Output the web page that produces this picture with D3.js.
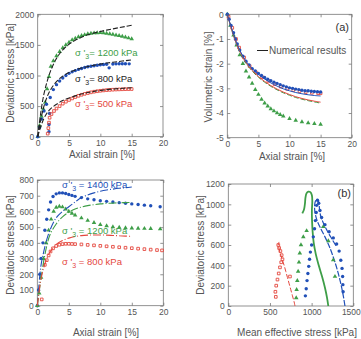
<!DOCTYPE html>
<html>
<head>
<meta charset="utf-8">
<script src="https://cdn.jsdelivr.net/npm/d3@7/dist/d3.min.js"></script>
<style>
  body { margin: 0; background: #fff; }
  svg { display: block; }
  text { font-family: "Liberation Sans", Arial, sans-serif; fill: #555; }
</style>
</head>
<body>
<svg id="chart" width="361" height="339"></svg>
<script>
// ---- panel 1 : deviatoric stress vs axial strain (drained) ----
const dev1200Exp = [[0,0],[0.3,180],[0.6,330],[0.9,450],[1.2,560],[1.5,780],[1.8,980],[2.1,1150],[2.5,1240],[3,1320],[3.5,1390],[4,1450],[4.5,1500],[5,1540],[5.5,1580],[6,1605],[6.5,1630],[7,1650],[7.5,1665],[8,1678],[8.5,1688],[9,1694],[9.5,1697],[10,1698],[10.5,1694],[11,1688],[11.5,1680],[12,1670],[12.5,1660],[13,1650],[13.5,1638],[14,1625],[14.5,1612],[15,1598]];
const dev800Exp = [[0,0],[0.3,150],[0.6,290],[1,420],[1.4,530],[1.8,80],[1.8,200],[1.9,380],[2,640],[2.5,770],[3,850],[3.5,910],[4,960],[4.5,1000],[5,1035],[5.5,1060],[6,1080],[6.5,1100],[7,1115],[7.5,1130],[8,1142],[8.5,1152],[9,1160],[9.5,1168],[10,1175],[10.5,1180],[11,1183],[11.4,1125],[12,1187],[12.5,1190],[13,1192],[13.5,1193],[14,1193],[14.6,1190]];
const dev500Exp = [[1.6,50],[1.7,140],[1.8,230],[1.9,310],[2.2,370],[2.6,420],[3,460],[3.5,500],[4,540],[4.5,572],[5,600],[5.5,625],[6,648],[6.5,668],[7,685],[7.5,700],[8,713],[8.5,725],[9,735],[9.5,743],[10,750],[10.5,756],[11,761],[11.5,765],[12,768],[12.5,771],[13,773],[13.5,775],[14,777],[14.5,778],[15,779]];
const dev1200Num = [[0,0],[0.5,400],[1,700],[1.5,900],[2,1060],[3,1280],[4,1420],[5,1510],[6,1575],[7,1625],[8,1665],[9,1695],[10,1720],[11,1742],[12,1762],[13,1782],[14,1801],[15,1820]];
const dev800Num = [[0,0],[0.5,280],[1,500],[1.5,650],[2,760],[3,900],[4,990],[5,1050],[6,1090],[7,1122],[8,1148],[9,1168],[10,1187],[11,1203],[12,1217],[13,1230],[14,1242],[15,1255]];
const dev500Num = [[0,0],[0.5,170],[1,300],[1.5,390],[2,450],[3,530],[4,590],[5,632],[6,667],[7,697],[8,721],[9,741],[10,756],[11,769],[12,779],[13,787],[14,794],[15,800]];

// ---- panel 2 : volumetric strain vs axial strain ----
const vol800Exp = [[0,0],[0.3,-0.2],[0.6,-0.45],[1,-0.75],[1.3,-1.0],[1.6,-1.2],[2,-1.45],[2.5,-1.7],[3,-1.9],[3.5,-2.05],[4,-2.2],[4.5,-2.3],[5,-2.4],[5.5,-2.48],[6,-2.56],[6.5,-2.63],[7,-2.69],[7.5,-2.75],[8,-2.8],[8.5,-2.85],[9,-2.9],[9.5,-2.94],[10,-2.98],[10.5,-3.0],[11,-3.03],[11.5,-3.05],[12,-3.08],[12.5,-3.1],[13,-3.1],[13.5,-3.12],[14,-3.13],[14.5,-3.14],[15,-3.15]];
const vol500Exp = [[0.2,-0.1],[0.8,-0.55],[1.4,-1.0],[1.9,-1.35],[2.7,-1.75],[3.6,-2.1],[4.6,-2.35],[5.6,-2.55],[6.6,-2.7],[7.6,-2.83],[8.6,-2.93],[9.6,-3.02],[10.6,-3.07],[11.6,-3.12],[12.6,-3.16],[13.6,-3.18],[14.6,-3.2],[15,-3.2]];
const vol1200Exp = [[0,0],[0.5,-0.45],[1,-0.85],[1.5,-1.25],[2,-1.65],[2.5,-2.0],[3,-2.3],[3.5,-2.55],[4,-2.8],[4.5,-3.05],[5,-3.25],[5.5,-3.45],[6,-3.6],[6.5,-3.72],[7,-3.83],[7.5,-3.92],[8,-4.0],[8.5,-4.07],[9,-4.13],[10,-4.23],[11,-4.3],[12,-4.36],[13,-4.4],[14,-4.43],[15,-4.46]];
const vol800Num = [[0,0],[1,-0.8],[2,-1.45],[3,-1.9],[4,-2.2],[5,-2.43],[6,-2.62],[7,-2.78],[8,-2.91],[9,-3.02],[10,-3.1],[11,-3.17],[12,-3.22],[13,-3.26],[14,-3.29],[15,-3.31]];
const vol500Num = [[0,0],[1,-0.85],[2,-1.5],[3,-1.95],[4,-2.27],[5,-2.52],[6,-2.72],[7,-2.89],[8,-3.03],[9,-3.15],[10,-3.25],[11,-3.34],[12,-3.41],[13,-3.47],[14,-3.52],[15,-3.56]];
const vol1200Num = [[0,0],[1,-0.87],[2,-1.52],[3,-1.98],[4,-2.3],[5,-2.55],[6,-2.75],[7,-2.92],[8,-3.06],[9,-3.18],[10,-3.28],[11,-3.37],[12,-3.44],[13,-3.5],[14,-3.55],[15,-3.6]];

// ---- panel 3 : deviatoric stress vs axial strain (undrained) ----
const und1400Exp = [[0,0],[0.2,100],[0.4,200],[0.6,300],[0.9,400],[1.2,480],[1.5,550],[1.8,610],[2.1,660],[2.5,695],[3,712],[3.5,718],[4,718],[4.5,714],[5,708],[5.5,702],[6,696],[7,688],[8,680],[9,674],[10,668],[11,664],[12,660],[13,656],[14,652],[15,648],[16,644],[17,640],[18,636],[19.5,630]];
const und1200Exp = [[0,0],[0.3,80],[0.6,180],[1,300],[1.4,400],[1.8,480],[2.2,550],[2.6,600],[3,625],[3.5,632],[4,628],[4.5,615],[5,600],[5.5,588],[6,576],[7,558],[8,542],[9,528],[10,516],[11,508],[12,502],[13,498],[14,495],[15,493],[16,492],[17,491],[18,490],[19.5,488]];
const und800Exp = [[0.7,40],[1.2,260],[1.5,290],[1.8,320],[2.1,345],[2.5,365],[3,380],[3.5,388],[4,392],[4.5,394],[5,394],[5.5,393],[6,392],[7,390],[8,387],[9,384],[10,381],[11,378],[12,375],[13,372],[14,369],[15,366],[16,363],[17,360],[18,357],[19,354],[19.8,352]];
const und1400Num = [[0,0],[0.3,150],[0.6,260],[1,340],[1.5,420],[2,480],[3,560],[4,600],[5,630],[6,660],[7,688],[8,705],[9,718],[10,728],[11,736],[12,742],[13,747],[14,751],[15,755]];
const und1200Num = [[0,0],[0.5,150],[1,280],[1.5,380],[2,450],[3,520],[4,565],[5,595],[6,615],[7,628],[8,637],[9,643],[10,648],[11,651],[12,653],[13,655],[14,656],[15,657]];
const und800Num = [[0,0],[0.5,150],[1,240],[1.5,300],[2,340],[3,390],[4,415],[5,430],[6,440],[7,446],[8,449],[9,450],[10,450],[11,449],[12,447],[13,445],[14,443],[15,441]];

// ---- panel 4 : stress paths (mean effective stress, deviatoric stress) ----
const path800Exp = [[570,90],[565,140],[575,200],[590,260],[605,320],[620,380],[635,430],[650,460],[640,500],[625,540],[610,570],[600,600],[740,290]];
const path1200Exp = [[815,80],[820,160],[828,250],[838,340],[848,430],[858,520],[872,600],[900,680],[940,740],[1140,780],[1200,640],[1259,452],[1280,290]];
const path1400Exp = [[925,100],[935,170],[945,250],[955,320],[965,390],[975,460],[985,530],[1000,600],[1020,680],[1035,760],[1045,840],[1055,920],[1060,990],[1070,1040],[1085,1010],[1100,940],[1120,870],[1160,800],[1210,730],[1260,670],[1300,610],[1330,540],[1350,450],[1365,370],[1372,290],[1375,210],[1378,140]];
const path800Num = [[800,0],[790,40],[770,100],[750,160],[730,220],[710,280],[690,340],[670,400],[650,450],[630,500],[615,540],[605,580],[600,610],[610,630]];
const path1200Num = [[1200,0],[1185,80],[1160,180],[1125,290],[1085,400],[1050,510],[1025,620],[1012,730],[1005,840],[1003,940],[1008,1030],[1003,1090],[985,1120],[960,1125],[938,1108],[926,1065],[920,1010],[910,955],[888,910]];
const path1400Num = [[1400,0],[1380,100],[1350,220],[1310,350],[1260,480],[1210,590],[1160,680],[1110,760],[1070,830],[1045,900],[1035,970],[1045,1030],[1065,1050],[1085,1020],[1095,950],[1110,880],[1150,800],[1200,720],[1250,650],[1300,580]];

// ---- ticks ----
const strainTicks = [0, 5, 10, 15, 20];
const dev1Ticks = [0, 500, 1000, 1500, 2000];
const volTicks = [0, -1, -2, -3, -4, -5];
const dev3Ticks = [0, 100, 200, 300, 400, 500, 600, 700, 800];
const meanTicks = [0, 500, 1000, 1500];
const dev4Ticks = [0, 200, 400, 600, 800, 1000, 1200];

const col = { green: '#3e9e48', blue: '#2150b8', red: '#e4473e', black: '#222' };

const svg = d3.select('#chart');

function makePanel(cfg) {
  const x = d3.scaleLinear().domain(cfg.xDomain).range([cfg.left, cfg.right]);
  const y = d3.scaleLinear().domain(cfg.yDomain).range([cfg.bottom, cfg.top]);
  const g = svg.append('g');
  const fmt = d => String(d);

  const styleAxis = a => {
    a.select('.domain').remove();
    a.selectAll('line').attr('stroke', '#777').attr('stroke-width', 0.8);
    a.selectAll('text').style('font-size', '8.5px');
  };

  g.append('g').attr('class', 'xaxis').attr('transform', `translate(0,${cfg.bottom})`)
    .call(d3.axisBottom(x).tickValues(cfg.xTicks).tickSize(-3).tickPadding(3).tickFormat(fmt)).call(styleAxis);
  g.append('g').attr('transform', `translate(0,${cfg.top})`)
    .call(d3.axisTop(x).tickValues(cfg.xTicks).tickSize(-3).tickFormat('')).call(styleAxis);
  g.append('g').attr('transform', `translate(${cfg.left},0)`)
    .call(d3.axisLeft(y).tickValues(cfg.yTicks).tickSize(-3).tickPadding(3.5).tickFormat(fmt)).call(styleAxis);
  g.append('g').attr('transform', `translate(${cfg.right},0)`)
    .call(d3.axisRight(y).tickValues(cfg.yTicks).tickSize(-3).tickFormat('')).call(styleAxis);

  g.append('rect')
    .attr('x', cfg.left).attr('y', cfg.top)
    .attr('width', cfg.right - cfg.left).attr('height', cfg.bottom - cfg.top)
    .attr('fill', 'none').attr('stroke', '#777').attr('stroke-width', 0.8);

  // axis titles
  g.append('text').attr('x', cfg.xTitle[0]).attr('y', cfg.xTitle[1])
    .attr('text-anchor', 'middle').style('font-size', '10px').text(cfg.xLabel);
  g.append('text').attr('transform', `translate(${cfg.yTitle[0]},${cfg.yTitle[1]}) rotate(-90)`)
    .attr('text-anchor', 'middle').style('font-size', '10px').text(cfg.yLabel);

  return { g, x, y };
}

function drawLine(p, data, color, width, dash) {
  p.g.append('path').datum(data)
    .attr('d', d3.line().x(d => p.x(d[0])).y(d => p.y(d[1])).curve(d3.curveCatmullRom))
    .attr('fill', 'none').attr('stroke', color).attr('stroke-width', width)
    .attr('stroke-dasharray', dash || null);
}

function drawMarks(p, data, shape, color) {
  const sym = d3.symbol().type(shape).size(shape === d3.symbolSquare ? 7 : 9);
  p.g.selectAll(null).data(data).enter().append('path')
    .attr('d', sym)
    .attr('transform', d => `translate(${p.x(d[0])},${p.y(d[1])})`)
    .attr('fill', shape === d3.symbolSquare ? 'none' : color)
    .attr('stroke', shape === d3.symbolSquare ? color : 'none')
    .attr('stroke-width', 0.9);
}

function sigmaLabel(p, px, py, value, color, spaced) {
  const t = p.g.append('text').attr('x', px).attr('y', py).style('fill', color).style('font-size', '9.5px');
  t.append('tspan').text("σ '");
  t.append('tspan').attr('dy', 3).style('font-size', '7px').text('3');
  t.append('tspan').attr('dy', -3).text((spaced ? ' = ' : '= ') + value + ' kPa');
}

// panel 1
const p1 = makePanel({
  left: 37.7, right: 163, top: 14.3, bottom: 136.7,
  xDomain: [0, 20], yDomain: [0, 2000], xTicks: strainTicks, yTicks: dev1Ticks,
  xLabel: 'Axial strain [%]', yLabel: 'Deviatoric stress [kPa]',
  xTitle: [102, 158], yTitle: [14, 73]
});
drawMarks(p1, dev1200Exp, d3.symbolTriangle, col.green);
drawMarks(p1, dev800Exp, d3.symbolCircle, col.blue);
drawMarks(p1, dev500Exp, d3.symbolSquare, col.red);
drawLine(p1, dev1200Num, col.black, 1.1, '5,2');
drawLine(p1, dev800Num, col.black, 1.1, '5,2');
drawLine(p1, dev500Num, col.black, 1.1, '5,2');
sigmaLabel(p1, 75, 56, 1200, col.green, false);
sigmaLabel(p1, 75, 82, 800, col.black, false);
sigmaLabel(p1, 75, 107, 500, col.red, false);

// panel 2
const p2 = makePanel({
  left: 227.3, right: 351.7, top: 14.3, bottom: 137.7,
  xDomain: [0, 20], yDomain: [-5, 0], xTicks: strainTicks, yTicks: volTicks,
  xLabel: 'Axial strain [%]', yLabel: 'Volumetric strain [%]',
  xTitle: [292, 160], yTitle: [212, 77]
});
drawMarks(p2, vol1200Exp, d3.symbolTriangle, col.green);
drawMarks(p2, vol500Exp, d3.symbolSquare, col.red);
drawMarks(p2, vol800Exp, d3.symbolCircle, col.blue);
drawLine(p2, vol1200Num, col.green, 1, '5,2');
drawLine(p2, vol500Num, col.red, 1);
drawLine(p2, vol800Num, col.blue, 1);
p2.g.append('line').attr('x1', 257).attr('x2', 268).attr('y1', 50.5).attr('y2', 50.5)
  .attr('stroke', col.black).attr('stroke-width', 1);
p2.g.append('text').attr('x', 269).attr('y', 54).style('font-size', '10px').text('Numerical results');
p2.g.append('text').attr('x', 349).attr('y', 31).attr('text-anchor', 'end')
  .style('font-size', '11px').style('fill', '#333').text('(a)');

// panel 3
const p3 = makePanel({
  left: 37.3, right: 163.3, top: 180, bottom: 305.7,
  xDomain: [0, 20], yDomain: [0, 800], xTicks: strainTicks, yTicks: dev3Ticks,
  xLabel: 'Axial strain [%]', yLabel: 'Deviatoric stress [kPa]',
  xTitle: [106, 336], yTitle: [14, 245]
});
drawMarks(p3, und1400Exp, d3.symbolCircle, col.blue);
drawMarks(p3, und1200Exp, d3.symbolTriangle, col.green);
drawMarks(p3, und800Exp, d3.symbolSquare, col.red);
drawLine(p3, und1400Num, col.blue, 1.1, '8,2,1,2');
drawLine(p3, und1200Num, col.green, 1.1, '8,2,1,2');
drawLine(p3, und800Num, col.red, 1.1, '8,2,1,2');
sigmaLabel(p3, 62, 188, 1400, col.blue, true);
sigmaLabel(p3, 62, 234, 1200, col.green, true);
sigmaLabel(p3, 62, 265, 800, col.red, true);

// panel 4
const p4 = makePanel({
  left: 228.3, right: 353.3, top: 184, bottom: 306,
  xDomain: [0, 1500], yDomain: [0, 1200], xTicks: meanTicks, yTicks: dev4Ticks,
  xLabel: 'Mean effective stress [kPa]', yLabel: 'Deviatoric stress [kPa]',
  xTitle: [297, 336], yTitle: [204, 245]
});
// last x tick label would run off the page: pin its right edge to the border
p4.g.select('.xaxis').selectAll('.tick').filter(d => d === 1500).select('text')
  .attr('text-anchor', 'end').attr('x', 7);
drawLine(p4, path800Num, col.red, 1, '5,2');
drawLine(p4, path1200Num, col.green, 1.8);
drawLine(p4, path1400Num, col.blue, 1.2, '6,1.5');
drawMarks(p4, path800Exp, d3.symbolSquare, col.red);
drawMarks(p4, path1200Exp, d3.symbolTriangle, col.green);
drawMarks(p4, path1400Exp, d3.symbolCircle, col.blue);
p4.g.append('text').attr('x', 351).attr('y', 197).attr('text-anchor', 'end')
  .style('font-size', '11px').style('fill', '#333').text('(b)');
</script>
</body>
</html>
